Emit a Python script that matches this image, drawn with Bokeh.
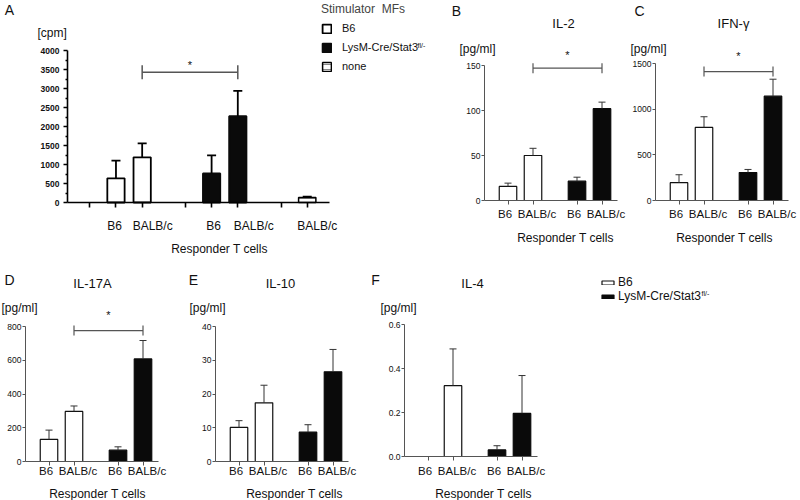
from bokeh.plotting import figure
from bokeh.models import (Range1d, FixedTicker, Label, Whisker, TeeHead, LinearAxis,
                          ColumnDataSource, Legend, LegendItem)
from bokeh.embed import file_html
from bokeh.resources import INLINE

FONT = "Liberation Sans"

# ---------------- data ----------------
# Panel A: proliferation [cpm]
a_labels = ["", "B6", "BALB/c", "", "B6", "BALB/c", "", "BALB/c"]
a_groups = [0, 0, 0, 1, 1, 1, 2, 2]
a_slots = [0, 1, 2, 0, 1, 2, 0, 1]
a_b6_idx = [1, 2]
a_b6_mean = [635, 1190]
a_b6_sem = [465, 365]
a_ko_idx = [4, 5]
a_ko_mean = [765, 2270]
a_ko_sem = [475, 665]
a_none_idx = [7]
a_none_mean = [130]
a_none_sem = [30]
a_yticks = [0, 500, 1000, 1500, 2000, 2500, 3000, 3500, 4000]
a_sig = [2, 5, 3430]

# Panels B-F: cytokines [pg/ml]
c_labels = ["B6", "BALB/c", "B6", "BALB/c"]
c_groups = [0, 0, 1, 1]
c_slots = [0, 1, 0, 1]
c_b6_idx = [0, 1]
c_ko_idx = [2, 3]

il2_b6 = [15.6, 50.0]
il2_b6_sem = [3.7, 8.0]
il2_ko = [21.5, 102.0]
il2_ko_sem = [4.4, 7.3]
il2_ticks = [0, 50, 100, 150]
il2_sig = [1, 3, 147]

ifng_b6 = [195, 800]
ifng_b6_sem = [87, 117]
ifng_ko = [306, 1142]
ifng_ko_sem = [34, 186]
ifng_ticks = [0, 500, 1000, 1500]
ifng_sig = [1, 3, 1412]

il17_b6 = [131, 297]
il17_b6_sem = [55, 32]
il17_ko = [67, 608]
il17_ko_sem = [20, 109]
il17_ticks = [0, 200, 400, 600, 800]
il17_sig = [1, 3, 776]

il10_b6 = [10.1, 17.4]
il10_b6_sem = [2.0, 5.2]
il10_ko = [8.7, 26.6]
il10_ko_sem = [2.2, 6.6]
il10_ticks = [0, 10, 20, 30, 40]

il4_b6 = [0.0, 0.322]
il4_b6_sem = [0.0, 0.167]
il4_ko = [0.030, 0.196]
il4_ko_sem = [0.019, 0.172]
il4_ticks = [0.0, 0.2, 0.4, 0.6]

# ---------------- canvas ----------------
W, H = 800, 500
p = figure(width=W, height=H, x_range=Range1d(0, W), y_range=Range1d(0, H),
           x_axis_type=None, y_axis_type=None, min_border=0,
           output_backend="svg", toolbar_location=None)
p.outline_line_color = None
p.background_fill_color = "white"
p.border_fill_color = "white"


def text(s, px, py, size, align="center", style="normal", color="#111111"):
    p.add_layout(Label(x=px, y=H - py, text=s, text_align=align, text_baseline="middle",
                       text_font=FONT, text_font_size=size, text_font_style=style,
                       text_color=color))


def panel(name, frame, x_end, y_end):
    l, t, r, b = frame
    kx = x_end / (r - l)
    ky = y_end / (b - t)
    p.extra_x_ranges[name + "x"] = Range1d(-l * kx, (W - l) * kx)
    p.extra_y_ranges[name + "y"] = Range1d(-(H - b) * ky, b * ky)
    return dict(x_range_name=name + "x", y_range_name=name + "y")


def axes(rn, xpos, x_end, yticks, yminor, color, lw, xtick_out, ytick_out, ystandoff,
         ysize, ystyle, yfmt=None):
    xa = LinearAxis(**rn, fixed_location=0, bounds=(0, x_end),
                    ticker=FixedTicker(ticks=xpos, minor_ticks=[]),
                    major_label_overrides={x: "" for x in xpos},
                    major_tick_in=0, major_tick_out=xtick_out,
                    major_tick_line_color=color, major_tick_line_width=lw,
                    minor_tick_line_color=None,
                    axis_line_color=color, axis_line_width=lw)
    p.add_layout(xa, "below")
    overrides = {v: yfmt.format(v) for v in yticks} if yfmt else {}
    ya = LinearAxis(**rn, fixed_location=0, bounds=(0, yticks[-1]),
                    ticker=FixedTicker(ticks=yticks, minor_ticks=yminor),
                    major_label_overrides=overrides,
                    major_tick_in=0, major_tick_out=ytick_out,
                    minor_tick_in=0, minor_tick_out=2,
                    major_tick_line_color=color, major_tick_line_width=lw,
                    minor_tick_line_color=color if yminor else None, minor_tick_line_width=lw,
                    major_label_standoff=ystandoff,
                    major_label_text_font=FONT, major_label_text_font_size=ysize,
                    major_label_text_font_style=ystyle, major_label_text_color="#111111",
                    axis_line_color=color, axis_line_width=lw)
    p.add_layout(ya, "left")


def cat_labels(rn, xpos, labels, dxs, dy, size):
    for x, s, dx in zip(xpos, labels, dxs):
        if s:
            p.add_layout(Label(**rn, x=x, y=0, x_offset=dx, y_offset=-dy, text=s,
                               text_align="center", text_baseline="middle",
                               text_font=FONT, text_font_size=size, text_color="#111111"))


def errors(rn, xs, means, sems, color, lw, cap):
    keep = [i for i in range(len(xs)) if sems[i] > 0]
    src = ColumnDataSource(dict(x=[xs[i] for i in keep],
                                lo=[means[i] for i in keep],
                                hi=[means[i] + sems[i] for i in keep]))
    p.add_layout(Whisker(**rn, source=src, base="x", lower="lo", upper="hi",
                         dimension="height", lower_head=None,
                         upper_head=TeeHead(size=cap, line_color=color, line_width=lw),
                         line_color=color, line_width=lw, level="glyph"))


def bracket(rn, xpos, sig, color, lw, size, star_dy):
    i1, i2, yv = sig
    src = ColumnDataSource(dict(y=[yv], x1=[xpos[i1]], x2=[xpos[i2]]))
    p.add_layout(Whisker(**rn, source=src, base="y", lower="x1", upper="x2",
                         dimension="width",
                         lower_head=TeeHead(size=size, line_color=color, line_width=lw),
                         upper_head=TeeHead(size=size, line_color=color, line_width=lw),
                         line_color=color, line_width=lw, level="glyph"))
    p.add_layout(Label(**rn, x=(xpos[i1] + xpos[i2]) / 2, y=yv, y_offset=star_dy, text="*",
                       text_align="center", text_baseline="middle", text_font=FONT,
                       text_font_size="11px", text_color="#111111"))


# ---------------- Panel A ----------------
a_pos = [round(0.85 + 3.65 * g + s, 3) for g, s in zip(a_groups, a_slots)]
rA = panel("A", (67, 50, 329, 202), 10, 4000)
axes(rA, a_pos, 10, a_yticks,
     [(a_yticks[i] + a_yticks[i + 1]) / 2 for i in range(len(a_yticks) - 1)],
     "#000000", 1.6, 5, 4, 4, "8.5px", "bold")
rA_b6 = p.vbar(**rA, x=[a_pos[i] for i in a_b6_idx], top=a_b6_mean, width=0.66, bottom=0,
               fill_color="white", line_color="black", line_width=1.8)
rA_ko = p.vbar(**rA, x=[a_pos[i] for i in a_ko_idx], top=a_ko_mean, width=0.66, bottom=0,
               fill_color="#0a0a0a", line_color="#0a0a0a", line_width=1.8)
rA_none = p.vbar(**rA, x=[a_pos[i] for i in a_none_idx], top=a_none_mean, width=0.66,
                 bottom=0, fill_color="white", line_color="black", line_width=1.5,
                 hatch_pattern="horizontal_line", hatch_color="#888888", hatch_scale=5,
                 hatch_weight=1)
errors(rA, [a_pos[i] for i in a_b6_idx], a_b6_mean, a_b6_sem, "#000000", 1.8, 9)
errors(rA, [a_pos[i] for i in a_ko_idx], a_ko_mean, a_ko_sem, "#000000", 1.8, 9)
errors(rA, [a_pos[i] for i in a_none_idx], a_none_mean, a_none_sem, "#000000", 1.2, 9)
bracket(rA, a_pos, a_sig, "#555555", 1.5, 14, 7)
cat_labels(rA, a_pos, a_labels, [0, -1.5, 10.5, 0, 2, 16, 0, 10], 23, "12px")
text("A", 9, 9, "14px")
text("[cpm]", 37, 32, "12px", align="left")
text("Responder T cells", 219, 248, "12px")
legA = Legend(items=[LegendItem(label="B6", renderers=[rA_b6]),
                     LegendItem(label="LysM-Cre/Stat3", renderers=[rA_ko]),
                     LegendItem(label="none", renderers=[rA_none])],
              location=(321, H - 72), title="Stimulator  MFs",
              title_text_font=FONT, title_text_font_size="12px",
              title_text_font_style="normal", title_standoff=6,
              label_text_font=FONT, label_text_font_size="11px", label_text_color="#111111",
              glyph_width=11, glyph_height=11, label_height=11, spacing=7,
              padding=0, margin=0, label_standoff=10,
              border_line_alpha=0, background_fill_alpha=0)
p.add_layout(legA)
text("fl/-", 417, 45, "7px", align="left")

# ---------------- Panels B-F ----------------
c_pos = [round(0.94 + 2.76 * g + s, 3) for g, s in zip(c_groups, c_slots)]
GRAY = "#555555"


def cyto(name, frame, yticks, b6, b6s, ko, kos, sig, star_dy, letter, title,
         letter_xy, title_xy, unit_xy, unit_align, resp_xy, yfmt=None):
    rn = panel(name, frame, 5.32, yticks[-1])
    axes(rn, c_pos, 5.32, yticks, [], GRAY, 1.0, 4, 3, 1, "8.5px", "normal", yfmt)
    rb = p.vbar(**rn, x=[c_pos[i] for i in c_b6_idx], top=b6, width=0.7, bottom=0,
                fill_color="white", line_color="#111111", line_width=1.2)
    rk = p.vbar(**rn, x=[c_pos[i] for i in c_ko_idx], top=ko, width=0.7, bottom=0,
                fill_color="#0a0a0a", line_color="#0a0a0a", line_width=1.2)
    errors(rn, [c_pos[i] for i in c_b6_idx], b6, b6s, "#333333", 1.0, 7)
    errors(rn, [c_pos[i] for i in c_ko_idx], ko, kos, "#333333", 1.0, 7)
    if sig is not None:
        bracket(rn, c_pos, sig, GRAY, 1.2, 10, star_dy)
    cat_labels(rn, c_pos, c_labels, [-3, 4, -3, 4], resp_xy[2], "11.5px")
    text(letter, letter_xy[0], letter_xy[1], "14px")
    text(title, title_xy[0], title_xy[1], "13px")
    text("[pg/ml]", unit_xy[0], unit_xy[1], "12px", align=unit_align)
    text("Responder T cells", resp_xy[0], resp_xy[1], "12px")
    return rb, rk


cyto("B", (484, 65, 617, 200), il2_ticks, il2_b6, il2_b6_sem, il2_ko, il2_ko_sem,
     il2_sig, 13, "B", "IL-2", (456, 10), (563, 23), (495, 48), "right", (565, 237, 13))
cyto("C", (655, 63, 788, 200), ifng_ticks, ifng_b6, ifng_b6_sem, ifng_ko, ifng_ko_sem,
     ifng_sig, 16, "C", "IFN-γ", (639, 10), (733, 23), (666, 48), "right", (724, 237, 13))
cyto("D", (25, 326, 158, 461), il17_ticks, il17_b6, il17_b6_sem, il17_ko, il17_ko_sem,
     il17_sig, 16, "D", "IL-17A", (9, 279), (92, 283), (1, 307), "left", (97, 493, 9))
cyto("E", (215, 326, 348, 461), il10_ticks, il10_b6, il10_b6_sem, il10_ko, il10_ko_sem,
     None, 0, "E", "IL-10", (193, 279), (280, 283), (189, 307), "left", (294, 493, 9))
rFb, rFk = cyto("F", (404, 324, 537, 456), il4_ticks, il4_b6, il4_b6_sem, il4_ko,
                il4_ko_sem, None, 0, "F", "IL-4", (375, 279), (472, 283), (380, 307),
                "left", (483, 493, 14), yfmt="{:.1f}")

legF = Legend(items=[LegendItem(label="B6", renderers=[rFb]),
                     LegendItem(label="LysM-Cre/Stat3", renderers=[rFk])],
              location=(600, H - 303),
              label_text_font=FONT, label_text_font_size="12px", label_text_color="#111111",
              glyph_width=15, glyph_height=5, label_height=12, spacing=0,
              padding=0, margin=0, label_standoff=3,
              border_line_alpha=0, background_fill_alpha=0)
p.add_layout(legF)
text("fl/-", 701, 293, "7px", align="left")

open("out.html", "w").write(file_html(p, INLINE))
